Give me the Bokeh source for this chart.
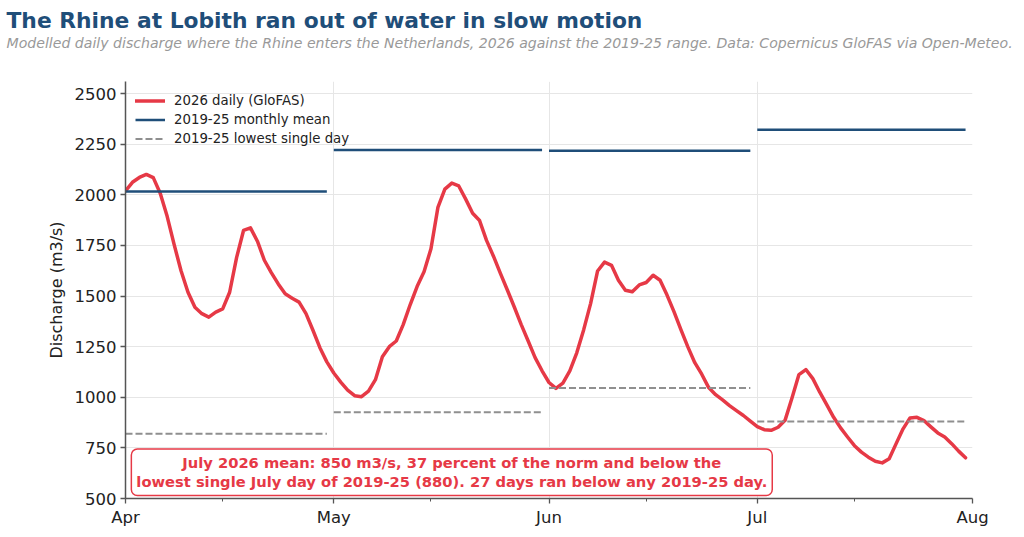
import pandas as pd
from bokeh.plotting import figure
from bokeh.models import Label, Legend, LegendItem, FixedTicker, Title, LinearAxis
from bokeh.embed import file_html
from bokeh.resources import INLINE

# ---------------- data ----------------
start_date = "2026-04-01"
discharge_2026 = [
    # April
    2020, 2062, 2086, 2101, 2085, 2008, 1894, 1755, 1625, 1519,
    1445, 1413, 1396, 1421, 1437, 1519, 1690, 1824, 1837, 1771,
    1677, 1616, 1560, 1511, 1489, 1470, 1413, 1331, 1245, 1175,
    # May
    1120, 1075, 1035, 1008, 1003, 1030, 1087, 1200, 1250, 1278,
    1359, 1457, 1547, 1620, 1734, 1938, 2028, 2058, 2044, 1979,
    1909, 1873, 1775, 1697, 1612, 1530, 1446, 1359, 1278, 1196,
    1131,
    # June
    1073, 1044, 1070, 1130, 1220, 1334, 1464, 1624, 1668, 1652,
    1578, 1529, 1521, 1555, 1567, 1603, 1578, 1505, 1423, 1334,
    1249, 1171, 1114, 1048, 1013, 987, 959, 934, 910, 882,
    # July
    855, 840, 837, 852, 886, 997, 1112, 1137, 1092, 1025,
    964, 901, 849, 804, 761, 729, 704, 684, 676, 696,
    771, 844, 898, 901, 885, 854, 824, 804, 771, 734,
    701,
]
month_labels = ["Apr", "May", "Jun", "Jul", "Aug"]
month_starts = ["2026-04-01", "2026-05-01", "2026-06-01", "2026-07-01", "2026-08-01"]
mid_months = ["2026-04-15", "2026-05-15", "2026-06-15", "2026-07-15"]
monthly_mean_2019_25 = [2016, 2221, 2218, 2322]
lowest_day_2019_25 = [820, 926, 1046, 880]

title_text = "The Rhine at Lobith ran out of water in slow motion"
subtitle_text = ("Modelled daily discharge where the Rhine enters the Netherlands, "
                 "2026 against the 2019-25 range. Data: Copernicus GloFAS via Open-Meteo.")
note_text = ("July 2026 mean: 850 m3/s, 37 percent of the norm and below the\n"
             "lowest single July day of 2019-25 (880). 27 days ran below any 2019-25 day.")

# ---------------- derived ----------------
t0 = pd.Timestamp(start_date)
dates = pd.date_range(start_date, periods=len(discharge_2026), freq="D")
day_x = [(d - t0).days for d in dates]
month_x = [(pd.Timestamp(m) - t0).days for m in month_starts]
minor_x = [(pd.Timestamp(m) - t0).days for m in mid_months]
seg_x0 = month_x[:-1]
seg_x1 = [m - 1 for m in month_x[1:]]

RED = "#e63946"
BLUE = "#1f4e79"
GREY = "#8f8f8f"
FONT = "DejaVu Sans"

p = figure(width=1016, height=529, output_backend="svg", toolbar_location=None,
           x_range=(month_x[0], month_x[-1]), y_range=(500, 2560),
           min_border_left=125, min_border_right=44, min_border_top=81,
           min_border_bottom=30)
p.outline_line_color = None
p.background_fill_color = "white"
p.border_fill_color = "white"

r_daily = p.line(day_x, discharge_2026, line_color=RED, line_width=3.5,
                 line_join="round", line_cap="round")
r_mean = p.segment(x0=seg_x0, x1=seg_x1, y0=monthly_mean_2019_25, y1=monthly_mean_2019_25,
                   line_color=BLUE, line_width=2.5)
r_low = p.segment(x0=seg_x0, x1=seg_x1, y0=lowest_day_2019_25, y1=lowest_day_2019_25,
                  line_color=GREY, line_width=2, line_dash="7 3")

legend = Legend(items=[
    LegendItem(label="2026 daily (GloFAS)", renderers=[r_daily]),
    LegendItem(label="2019-25 monthly mean", renderers=[r_mean]),
    LegendItem(label="2019-25 lowest single day", renderers=[r_low]),
], location="top_left")
legend.background_fill_alpha = 0
legend.border_line_alpha = 0
legend.label_text_font = FONT
legend.label_text_font_size = "13.3px"
legend.label_text_color = "#222222"
legend.glyph_width = 30
legend.glyph_height = 19
legend.label_height = 19
legend.spacing = 0
legend.padding = 10
legend.margin = 0
legend.label_standoff = 9
p.add_layout(legend)

# axes
p.xaxis.ticker = FixedTicker(ticks=month_x, minor_ticks=minor_x)
p.xaxis.major_label_overrides = {mx: lab for mx, lab in zip(month_x, month_labels)}
p.yaxis.ticker = FixedTicker(ticks=list(range(500, 2501, 250)), minor_ticks=[])
p.yaxis.axis_label = "Discharge (m3/s)"
for ax in (p.xaxis, p.yaxis):
    ax.axis_line_color = "#555555"
    ax.axis_line_width = 1.5
    ax.major_tick_line_color = "#555555"
    ax.major_tick_line_width = 1.3
    ax.major_tick_out = 5
    ax.major_tick_in = 0
    ax.major_label_text_font = FONT
    ax.major_label_text_font_size = "16.5px"
    ax.major_label_text_color = "#222222"
    ax.major_label_standoff = 4
    ax.axis_label_text_font = FONT
    ax.axis_label_text_font_size = "16px"
    ax.axis_label_text_font_style = "normal"
    ax.axis_label_text_color = "#222222"
p.xaxis.minor_tick_line_color = "#555555"
p.xaxis.minor_tick_line_width = 1
p.xaxis.minor_tick_out = 3
p.xaxis.minor_tick_in = 0
p.yaxis.minor_tick_line_color = None
p.yaxis.axis_label_standoff = 6

p.xgrid.ticker = FixedTicker(ticks=month_x)
p.ygrid.ticker = FixedTicker(ticks=list(range(500, 2501, 250)))
p.grid.grid_line_color = "#e6e6e6"
p.grid.grid_line_width = 1

# header: a blank (white) spacer axis next to the frame, then subtitle, then title
spacer = LinearAxis(ticker=FixedTicker(ticks=[month_x[2]], minor_ticks=[]),
                    major_label_overrides={month_x[2]: " "},
                    major_label_text_font_size="1px", major_label_standoff=0,
                    axis_line_color=None, major_tick_line_color="white",
                    major_tick_line_width=1, minor_tick_line_color=None,
                    major_tick_out=27, major_tick_in=0, minor_tick_out=0)
p.add_layout(spacer, "above")
p.add_layout(Title(text=subtitle_text, align="left", offset=-119,
                   text_font=FONT, text_font_size="14.1px", text_font_style="italic",
                   text_color="#999999", standoff=0), "above")
p.add_layout(Title(text=title_text, align="left", offset=-119,
                   text_font=FONT, text_font_size="21.8px", text_font_style="bold",
                   text_color=BLUE, standoff=0), "above")

# annotation box
p.add_layout(Label(x=47, y=630, text=note_text, text_align="center", text_baseline="middle",
                   text_font=FONT, text_font_size="14.7px", text_font_style="bold",
                   text_line_height=1.15,
                   text_color=RED, background_fill_color="white",
                   border_line_color=RED, border_line_width=1.5, border_radius=6,
                   padding=5))

open("out.html", "w").write(file_html(p, INLINE))
